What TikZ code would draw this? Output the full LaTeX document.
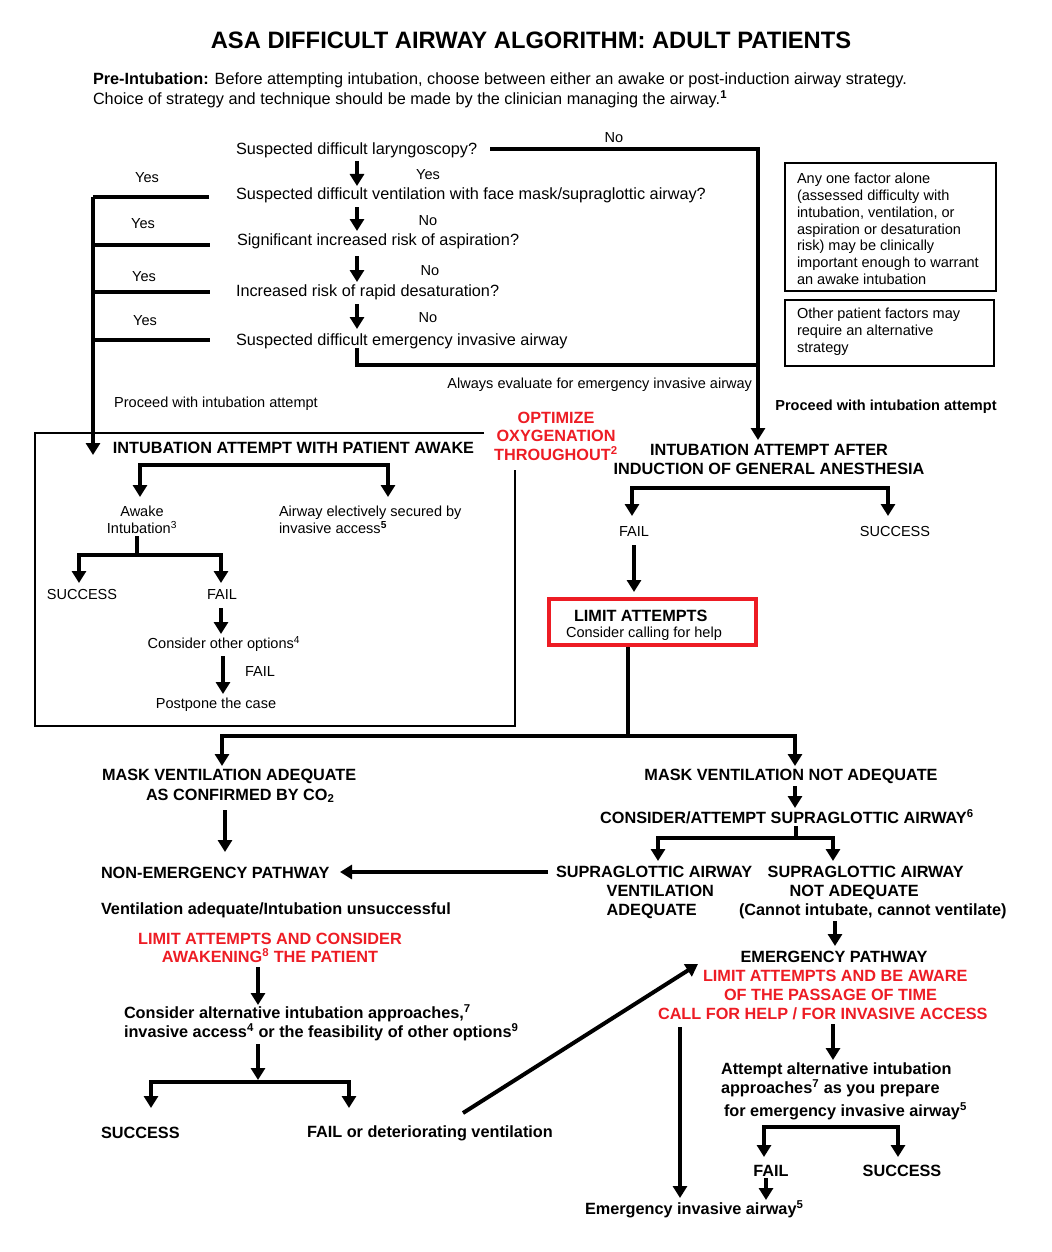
\documentclass[tikz,border=0pt]{standalone}
\usepackage{fontspec}
\setmainfont{Liberation Sans}
\usetikzlibrary{arrows.meta}
\definecolor{asared}{RGB}{237,28,36}
\begin{document}
\begin{tikzpicture}[x=0.75pt,y=-0.75pt,
  base/.style={inner sep=0pt, outer sep=0pt},
  q/.style={base, font=\fontsize{12.2}{14.4}\selectfont},
  sm/.style={base, font=\fontsize{10.9}{12.6}\selectfont},
  smb/.style={base, font=\fontsize{10.9}{12.6}\selectfont\bfseries},
  hd/.style={base, font=\fontsize{12.2}{14.25}\selectfont\bfseries},
  rd/.style={hd, text=asared},
  ttl/.style={base, font=\fontsize{17.8}{20}\selectfont\bfseries},
  ln/.style={line width=3pt},
  arr/.style={line width=3pt, -{Triangle[width=10.5pt,length=9pt]}},
  thinbox/.style={line width=1pt},
  redbox/.style={line width=3pt, draw=asared}]
\useasboundingbox (0,0) rectangle (1052,1252);

% title and intro
\node[ttl] (title) at (531,40) {ASA DIFFICULT AIRWAY ALGORITHM: ADULT PATIENTS};
\node[q, anchor=west] (pre1) at (93,80) {\textbf{Pre-Intubation:} Before attempting intubation, choose between either an awake or post-induction airway strategy.};
\node[q, anchor=west] (pre2) at (93,99) {Choice of strategy and technique should be made by the clinician managing the airway.\textsuperscript{\textbf{1}}};

% questions
\node[q, anchor=west] (q1) at (236,150) {Suspected difficult laryngoscopy?};
\node[q, anchor=west] (q2) at (236,195) {Suspected difficult ventilation with face mask/supraglottic airway?};
\node[q, anchor=west] (q3) at (237,241) {Significant increased risk of aspiration?};
\node[q, anchor=west] (q4) at (236,292) {Increased risk of rapid desaturation?};
\node[q, anchor=west] (q5) at (236,341) {Suspected difficult emergency invasive airway};

\coordinate (a1s) at (357,161); \coordinate (a1e) at (357,186);
\coordinate (a2s) at (357,207); \coordinate (a2e) at (357,231);
\coordinate (a3s) at (357,256); \coordinate (a3e) at (357,282);
\coordinate (a4s) at (357,304); \coordinate (a4e) at (357,329);
\draw[arr] (a1s) -- (a1e);
\draw[arr] (a2s) -- (a2e);
\draw[arr] (a3s) -- (a3e);
\draw[arr] (a4s) -- (a4e);
\node[sm] (lyes1) at (428,175) {Yes};
\node[sm] (lno2) at (428,221) {No};
\node[sm] (lno3) at (430,271) {No};
\node[sm] (lno4) at (428,318) {No};

% No line to induction
\coordinate (nostart) at (490,149);
\coordinate (indtip) at (758,440);
\coordinate (q5s) at (357,348);
\coordinate (q5c) at (357,365);
\coordinate (q5j) at (758,365);
\draw[arr] (nostart) -| (indtip);
\draw[ln] (q5s) -- (q5c) -- (q5j);
\node[sm] (lno1) at (614,138) {No};
\node[sm, anchor=east] (always) at (752,385) {Always evaluate for emergency invasive airway};

% left Yes bracket
\coordinate (ytop) at (93,197);
\coordinate (ytip) at (93,455);
\draw[ln] (209,197) -- (ytop);
\draw[arr] (ytop) -- (ytip);
\draw[ln] (93,245) -- (210,245);
\draw[ln] (93,292) -- (210,292);
\draw[ln] (93,340) -- (210,340);
\node[sm] (y1) at (147,178) {Yes};
\node[sm] (y2) at (143,224) {Yes};
\node[sm] (y3) at (144,277) {Yes};
\node[sm] (y4) at (145,321) {Yes};

\node[sm] (proc1) at (216,404) {Proceed with intubation attempt};
\node[smb] (proc2) at (886,407) {Proceed with intubation attempt};

% right info boxes
\draw[thinbox] (785,163) rectangle (996,291);
\node[sm, anchor=west, align=left] (info1) at (797,229) {Any one factor alone\\(assessed difficulty with\\intubation, ventilation, or\\aspiration or desaturation\\risk) may be clinically\\important enough to warrant\\an awake intubation};
\draw[thinbox] (785,300) rectangle (994,366);
\node[sm, anchor=west, align=left] (info2) at (797,332) {Other patient factors may\\require an alternative\\strategy};

% awake box
\draw[thinbox] (484,433) -- (35,433) -- (35,726) -- (515,726) -- (515,470);
\node[hd] (awake) at (293.5,448) {INTUBATION ATTEMPT WITH PATIENT AWAKE};
\coordinate (aj) at (262,465);
\draw[arr] (aj) -| (140,497);
\draw[arr] (aj) -| (388,497);
\node[sm, align=center] (awint) at (142,520) {Awake\\Intubation\textsuperscript{3}};
\node[sm, anchor=west, align=left] (elect) at (279,520) {Airway electively secured by\\invasive access\textsuperscript{\textbf{5}}};
\coordinate (aws) at (137,536);
\coordinate (awj) at (137,555);
\draw[ln] (aws) -- (awj);
\draw[arr] (awj) -| (79,583);
\draw[arr] (awj) -| (221,583);
\node[sm] (awsucc) at (82,594) {SUCCESS};
\node[sm] (awfail) at (222,594) {FAIL};
\draw[arr] (221,608) -- (221,634);
\node[sm] (other) at (224,644) {Consider other options\textsuperscript{4}};
\draw[arr] (223,656) -- (223,694);
\node[sm] (awfail2) at (260,671) {FAIL};
\node[sm] (postpone) at (216,705) {Postpone the case};

% optimize
\node[rd, align=center, font=\fontsize{12.2}{13.9}\selectfont\bfseries] (optim) at (556,436) {OPTIMIZE\\OXYGENATION\\THROUGHOUT\textsuperscript{2}};

% induction side
\node[hd, align=center] (induct) at (769,459) {INTUBATION ATTEMPT AFTER\\INDUCTION OF GENERAL ANESTHESIA};
\coordinate (ij) at (760,488);
\draw[arr] (ij) -| (632,516);
\draw[arr] (ij) -| (888,516);
\node[sm] (ifail) at (634,531) {FAIL};
\node[sm] (isucc) at (895,531) {SUCCESS};
\draw[arr] (634,545) -- (634,592);
\draw[redbox] (549,599) rectangle (756,645);
\node[hd, anchor=west] (limit) at (574,616) {LIMIT ATTEMPTS};
\node[sm, anchor=west] (callhelp) at (566,634) {Consider calling for help};

\coordinate (rbs) at (628,647);
\coordinate (mj) at (628,736);
\draw[ln] (rbs) -- (mj);
\draw[arr] (mj) -| (222,766);
\draw[arr] (mj) -| (795,766);

% mask ventilation adequate
\node[hd, anchor=west, align=left, font=\fontsize{12.2}{15}\selectfont\bfseries] (mva) at (102,786) {MASK VENTILATION ADEQUATE\\\hspace*{33pt}AS CONFIRMED BY CO\textsubscript{2}};
\draw[arr] (225,810) -- (225,852);
\node[hd, anchor=west] (nonem) at (101,873) {NON-EMERGENCY PATHWAY};
\node[hd, anchor=west] (ventad) at (101,910) {Ventilation adequate/Intubation unsuccessful};
\node[rd, align=center, font=\fontsize{12.2}{13.5}\selectfont\bfseries] (limawake) at (270,948) {LIMIT ATTEMPTS AND CONSIDER\\AWAKENING\textsuperscript{8} THE PATIENT};
\draw[arr] (258,967) -- (258,1005);
\node[hd, anchor=west, align=left] (consalt) at (124,1023) {Consider alternative intubation approaches,\textsuperscript{7}\\invasive access\textsuperscript{4} or the feasibility of other options\textsuperscript{9}};
\draw[arr] (258,1044) -- (258,1080);
\coordinate (cj) at (258,1082);
\draw[arr] (cj) -| (151,1108);
\draw[arr] (cj) -| (349,1108);
\node[hd, anchor=west] (nsucc) at (101,1133) {SUCCESS};
\node[hd, anchor=west] (nfail) at (307,1133) {FAIL or deteriorating ventilation};

% mask ventilation not adequate
\node[hd] (mvna) at (791,776) {MASK VENTILATION NOT ADEQUATE};
\draw[arr] (795,786) -- (795,808);
\node[hd] (sga) at (787,817) {CONSIDER/ATTEMPT SUPRAGLOTTIC AIRWAY\textsuperscript{6}};
\coordinate (ss) at (796,826);
\coordinate (sj) at (796,838);
\draw[ln] (ss) -- (sj);
\draw[arr] (sj) -| (658,861);
\draw[arr] (sj) -| (833,861);
\node[hd, anchor=west, align=left] (sgaok) at (556,892) {SUPRAGLOTTIC AIRWAY\\\hspace*{38pt}VENTILATION\\\hspace*{38pt}ADEQUATE};
\node[hd, anchor=west, align=left] (sgano) at (739,892) {\hspace*{21.5pt}SUPRAGLOTTIC AIRWAY\\\hspace*{38pt}NOT ADEQUATE\\(Cannot intubate, cannot ventilate)};
\draw[arr] (548,872) -- (340,872);
\draw[arr] (835,921) -- (835,946);
\node[hd] (emerg) at (834,957) {EMERGENCY PATHWAY};
\node[rd, anchor=west, align=left] (limaware) at (658,995) {\hspace*{33.75pt}LIMIT ATTEMPTS AND BE AWARE\\\hspace*{49.5pt}OF THE PASSAGE OF TIME\\CALL FOR HELP / FOR INVASIVE ACCESS};
\draw[arr] (463,1113) -- (698,964);
\draw[arr] (680,1027) -- (680,1198);
\draw[arr] (833,1024) -- (833,1060);
\node[hd, anchor=west, align=left] (attalt) at (721,1080) {Attempt alternative intubation\\approaches\textsuperscript{7} as you prepare};
\node[hd, anchor=west] (forem) at (724,1111) {for emergency invasive airway\textsuperscript{5}};
\coordinate (ej) at (831,1127);
\draw[arr] (ej) -| (764,1157);
\draw[arr] (ej) -| (898,1157);
\node[hd] (efail) at (771,1171) {FAIL};
\node[hd] (esucc) at (902,1171) {SUCCESS};
\draw[arr] (766,1178) -- (766,1200);
\node[hd, anchor=west] (eia) at (585,1209) {Emergency invasive airway\textsuperscript{5}};
\end{tikzpicture}
\end{document}
